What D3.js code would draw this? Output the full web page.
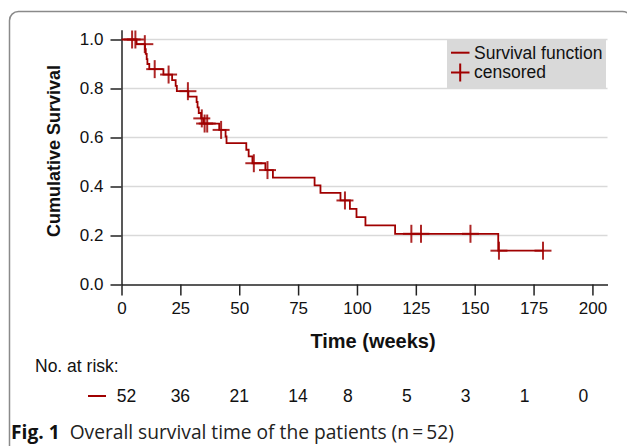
<!DOCTYPE html>
<html>
<head>
<meta charset="utf-8">
<script src="https://cdn.jsdelivr.net/npm/d3@7"></script>
<style>
  html, body { margin: 0; padding: 0; background: #fff; }
  svg { display: block; }
  text { font-family: "Liberation Sans", Arial, sans-serif; fill: #111; }
</style>
</head>
<body>
<svg id="chart" width="627" height="446"></svg>
<script>
// ---- Data ----
const stepTimes = [0, 6.4, 10.0, 10.3, 10.7, 11.0, 11.8, 17.8, 21.5, 23.0, 23.5, 28.4, 31.9, 32.3, 32.8, 33.8, 34.8, 41.5, 44.2, 44.6, 53.0, 54.0, 55.6, 61.1, 64.3, 82.0, 84.5, 93.0, 97.0, 99.8, 103.6, 116.2, 160.0];
const stepSurv  = [1.0, 0.981, 0.961, 0.941, 0.920, 0.900, 0.879, 0.857, 0.834, 0.811, 0.789, 0.767, 0.745, 0.723, 0.700, 0.678, 0.657, 0.631, 0.604, 0.577, 0.550, 0.523, 0.495, 0.467, 0.436, 0.405, 0.374, 0.343, 0.309, 0.275, 0.241, 0.207, 0.138];
const lastTime = 179.0;
const censorTimes = [4.5, 5.9, 9.9, 14.1, 20.0, 28.2, 34.1, 35.3, 36.4, 42.3, 56.2, 62.0, 94.9, 123.1, 127.2, 148.2, 160.3, 179.0];
const censorSurv  = [1.0, 1.0, 0.981, 0.879, 0.857, 0.789, 0.678, 0.657, 0.657, 0.631, 0.495, 0.467, 0.343, 0.207, 0.207, 0.207, 0.138, 0.138];
const xTicks = [0, 25, 50, 75, 100, 125, 150, 175, 200];
const yTicks = [0.0, 0.2, 0.4, 0.6, 0.8, 1.0];
const riskTimes  = [0, 25, 50, 75, 100, 125, 150, 175, 200];
const riskCounts = [52, 36, 21, 14, 8, 5, 3, 1, 0];
const legendLabels = ["Survival function", "censored"];

// ---- Setup ----
const RED = "#a00000";
const svg = d3.select("#chart");
svg.append("rect").attr("width", 627).attr("height", 446).attr("fill", "#fff");

// outer rounded frame (only top/left visible)
svg.append("rect").attr("x", 9.5).attr("y", 11.5).attr("width", 622).attr("height", 480)
  .attr("rx", 9).attr("ry", 9).attr("fill", "none").attr("stroke", "#8a8a8a").attr("stroke-width", 1.5);

const x = d3.scaleLinear().domain([0, 206.4]).range([121.5, 607.5]);
const y = d3.scaleLinear().domain([0, 1.04]).range([284.5, 29.7]);

// gridlines
svg.append("g").selectAll("line").data(yTicks.filter(d => d > 0)).join("line")
  .attr("x1", x(0)).attr("x2", x(206.4))
  .attr("y1", d => y(d)).attr("y2", d => y(d))
  .attr("stroke", "#d9d9d9").attr("stroke-width", 1.5);

// legend box
const lg = svg.append("g");
lg.append("rect").attr("x", 447).attr("y", y(1.0)).attr("width", 159).attr("height", y(0.8) - y(1.0))
  .attr("fill", "#d9d9d9");
lg.append("line").attr("x1", 451).attr("x2", 469.5).attr("y1", 52.7).attr("y2", 52.7)
  .attr("stroke", RED).attr("stroke-width", 2);
lg.append("line").attr("x1", 451).attr("x2", 469.5).attr("y1", 72.5).attr("y2", 72.5)
  .attr("stroke", RED).attr("stroke-width", 2);
lg.append("line").attr("x1", 460.2).attr("x2", 460.2).attr("y1", 63.5).attr("y2", 81.5)
  .attr("stroke", RED).attr("stroke-width", 2);
lg.selectAll("text").data(legendLabels).join("text")
  .attr("x", 474).attr("y", (d, i) => 58.5 + i * 19.5)
  .attr("font-size", 17.5).text(d => d);

// axes
const xAxis = d3.axisBottom(x).tickValues(xTicks).tickSize(11).tickSizeOuter(0).tickPadding(6)
  .tickFormat(d3.format("d"));
const gx = svg.append("g").attr("transform", `translate(0,${y(0)})`).call(xAxis);
gx.select(".domain").attr("stroke", "#222").attr("stroke-width", 1.5);
gx.selectAll(".tick line").attr("stroke", "#222").attr("stroke-width", 1.5);
gx.selectAll(".tick text").attr("font-size", 17).attr("fill", "#111");

const yAxis = d3.axisLeft(y).tickValues(yTicks).tickSize(11).tickSizeOuter(0).tickPadding(7)
  .tickFormat(d3.format(".1f"));
const gy = svg.append("g").attr("transform", `translate(${x(0)},0)`).call(yAxis);
gy.select(".domain").attr("stroke", "#222").attr("stroke-width", 1.5);
gy.selectAll(".tick line").attr("stroke", "#222").attr("stroke-width", 1.5);
gy.selectAll(".tick text").attr("font-size", 17).attr("fill", "#111");

// axis titles
svg.append("text").attr("x", 373).attr("y", 348).attr("text-anchor", "middle")
  .attr("font-size", 20).attr("font-weight", "bold").text("Time (weeks)");
svg.append("text").attr("transform", "translate(60,151) rotate(-90)").attr("text-anchor", "middle")
  .attr("font-size", 18).attr("font-weight", "bold").text("Cumulative Survival");

// KM curve
const pts = stepTimes.map((t, i) => [t, stepSurv[i]]);
pts.push([lastTime, stepSurv[stepSurv.length - 1]]);
const line = d3.line().x(d => x(d[0])).y(d => y(d[1])).curve(d3.curveStepAfter);
svg.append("path").datum(pts).attr("d", line).attr("fill", "none")
  .attr("stroke", RED).attr("stroke-width", 1.8);

// censor marks
const cg = svg.append("g").attr("stroke", RED).attr("stroke-width", 2).attr("stroke-opacity", 0.85);
censorTimes.forEach((t, i) => {
  const cx = x(t), cy = y(censorSurv[i]);
  cg.append("line").attr("x1", cx - 8.5).attr("x2", cx + 8.5).attr("y1", cy).attr("y2", cy);
  cg.append("line").attr("x1", cx).attr("x2", cx).attr("y1", cy - 9).attr("y2", cy + 9);
});

// number at risk
svg.append("text").attr("x", 35).attr("y", 372).attr("font-size", 17.5).text("No. at risk:");
svg.append("line").attr("x1", 88).attr("x2", 106).attr("y1", 396).attr("y2", 396)
  .attr("stroke", RED).attr("stroke-width", 2);
svg.append("g").selectAll("text").data(riskCounts).join("text")
  .attr("x", (d, i) => x(riskTimes[i]) + (i === 0 ? 5 : 0) + (String(d).length === 1 ? -9 : 0))
  .attr("y", 402).attr("text-anchor", "middle").attr("font-size", 17.5).text(d => d);

// caption
const cap = svg.append("text").attr("x", 11).attr("y", 439).attr("font-size", 19.2)
  .style("font-family", "'Open Sans', 'Noto Sans', sans-serif");
cap.append("tspan").attr("font-weight", "bold").text("Fig. 1");
cap.append("tspan").attr("dx", 10).attr("fill", "#222").text("Overall survival time of the patients (n\u2009=\u200952)");
</script>
</body>
</html>
